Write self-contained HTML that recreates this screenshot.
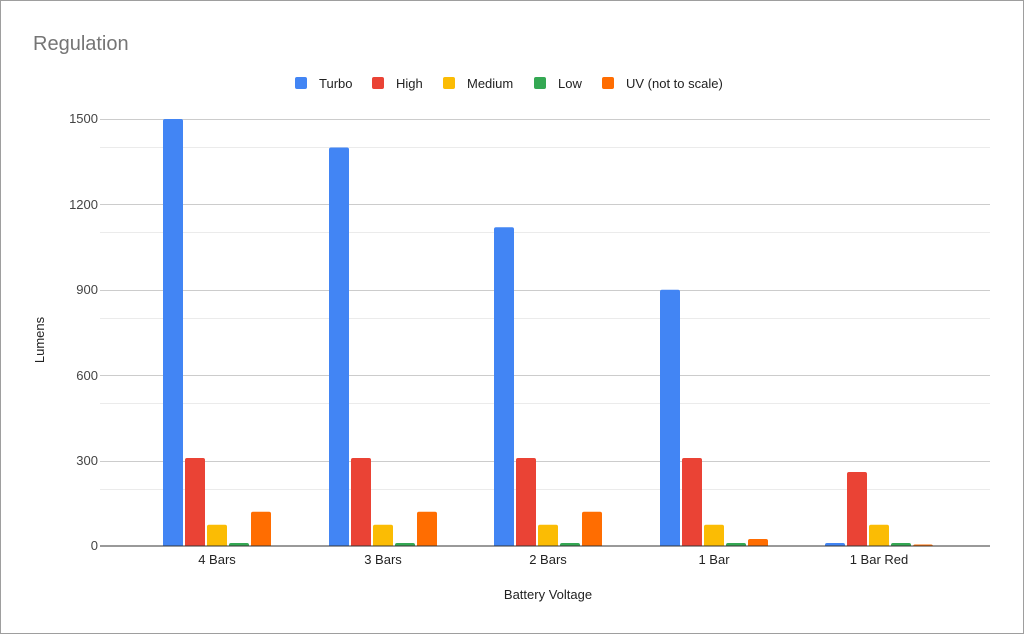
<!DOCTYPE html><html><head><style>body{margin:0}svg{display:block}text{font-family:"Liberation Sans",Arial,sans-serif}</style></head><body>
<svg width="1024" height="634" xmlns="http://www.w3.org/2000/svg">
<rect x="0.5" y="0.5" width="1023" height="633" fill="#fff" stroke="#9e9e9e"/>
<text x="33" y="50" font-size="20" fill="#757575">Regulation</text>
<g font-size="13" fill="#222">
<rect x="295" y="77" width="12" height="12" rx="2" fill="#4285f4"/><text x="319" y="88">Turbo</text>
<rect x="372" y="77" width="12" height="12" rx="2" fill="#ea4335"/><text x="396" y="88">High</text>
<rect x="443" y="77" width="12" height="12" rx="2" fill="#fbbc04"/><text x="467" y="88">Medium</text>
<rect x="534" y="77" width="12" height="12" rx="2" fill="#34a853"/><text x="558" y="88">Low</text>
<rect x="602" y="77" width="12" height="12" rx="2" fill="#ff6d01"/><text x="626" y="88">UV (not to scale)</text>
</g>
<g stroke="#ebebeb"><line x1="100" x2="990" y1="147.5" y2="147.5"/><line x1="100" x2="990" y1="232.5" y2="232.5"/><line x1="100" x2="990" y1="318.5" y2="318.5"/><line x1="100" x2="990" y1="403.5" y2="403.5"/><line x1="100" x2="990" y1="489.5" y2="489.5"/></g>
<g stroke="#ccc"><line x1="100" x2="990" y1="119.5" y2="119.5"/><line x1="100" x2="990" y1="204.5" y2="204.5"/><line x1="100" x2="990" y1="290.5" y2="290.5"/><line x1="100" x2="990" y1="375.5" y2="375.5"/><line x1="100" x2="990" y1="461.5" y2="461.5"/></g>
<g font-size="13" fill="#444" text-anchor="end"><text x="98" y="123">1500</text><text x="98" y="209">1200</text><text x="98" y="294">900</text><text x="98" y="380">600</text><text x="98" y="465">300</text><text x="98" y="550">0</text></g>
<text transform="translate(44,340) rotate(-90)" font-size="13" fill="#222" text-anchor="middle">Lumens</text>
<g>
<rect x="163" y="119" width="20" height="430" rx="2" fill="#4285f4"/>
<rect x="185" y="458" width="20" height="91" rx="2" fill="#ea4335"/>
<rect x="207" y="524.7" width="20" height="24" rx="2" fill="#fbbc04"/>
<rect x="229" y="543" width="20" height="6" rx="2" fill="#34a853"/>
<rect x="251" y="511.8" width="20" height="37" rx="2" fill="#ff6d01"/>

<rect x="329" y="147.5" width="20" height="402" rx="2" fill="#4285f4"/>
<rect x="351" y="458" width="20" height="91" rx="2" fill="#ea4335"/>
<rect x="373" y="524.7" width="20" height="24" rx="2" fill="#fbbc04"/>
<rect x="395" y="543" width="20" height="6" rx="2" fill="#34a853"/>
<rect x="417" y="511.8" width="20" height="37" rx="2" fill="#ff6d01"/>

<rect x="494" y="227.2" width="20" height="322" rx="2" fill="#4285f4"/>
<rect x="516" y="458" width="20" height="91" rx="2" fill="#ea4335"/>
<rect x="538" y="524.7" width="20" height="24" rx="2" fill="#fbbc04"/>
<rect x="560" y="543" width="20" height="6" rx="2" fill="#34a853"/>
<rect x="582" y="511.8" width="20" height="37" rx="2" fill="#ff6d01"/>

<rect x="660" y="289.8" width="20" height="259" rx="2" fill="#4285f4"/>
<rect x="682" y="458" width="20" height="91" rx="2" fill="#ea4335"/>
<rect x="704" y="524.7" width="20" height="24" rx="2" fill="#fbbc04"/>
<rect x="726" y="543" width="20" height="6" rx="2" fill="#34a853"/>
<rect x="748" y="539" width="20" height="10" rx="2" fill="#ff6d01"/>

<rect x="825" y="543" width="20" height="6" rx="2" fill="#4285f4"/>
<rect x="847" y="472" width="20" height="77" rx="2" fill="#ea4335"/>
<rect x="869" y="524.7" width="20" height="24" rx="2" fill="#fbbc04"/>
<rect x="891" y="543" width="20" height="6" rx="2" fill="#34a853"/>
<rect x="913" y="544.5" width="20" height="5" rx="2" fill="#ff6d01"/>
</g>
<rect x="100" y="546.5" width="890" height="10" fill="#fff"/>
<line x1="100" x2="990" y1="546" y2="546" stroke="#333"/>
<g font-size="13" fill="#222" text-anchor="middle"><text x="217" y="564">4 Bars</text><text x="383" y="564">3 Bars</text><text x="548" y="564">2 Bars</text><text x="714" y="564">1 Bar</text><text x="879" y="564">1 Bar Red</text></g>
<text x="548" y="599" font-size="13" fill="#222" text-anchor="middle">Battery Voltage</text>
</svg></body></html>
